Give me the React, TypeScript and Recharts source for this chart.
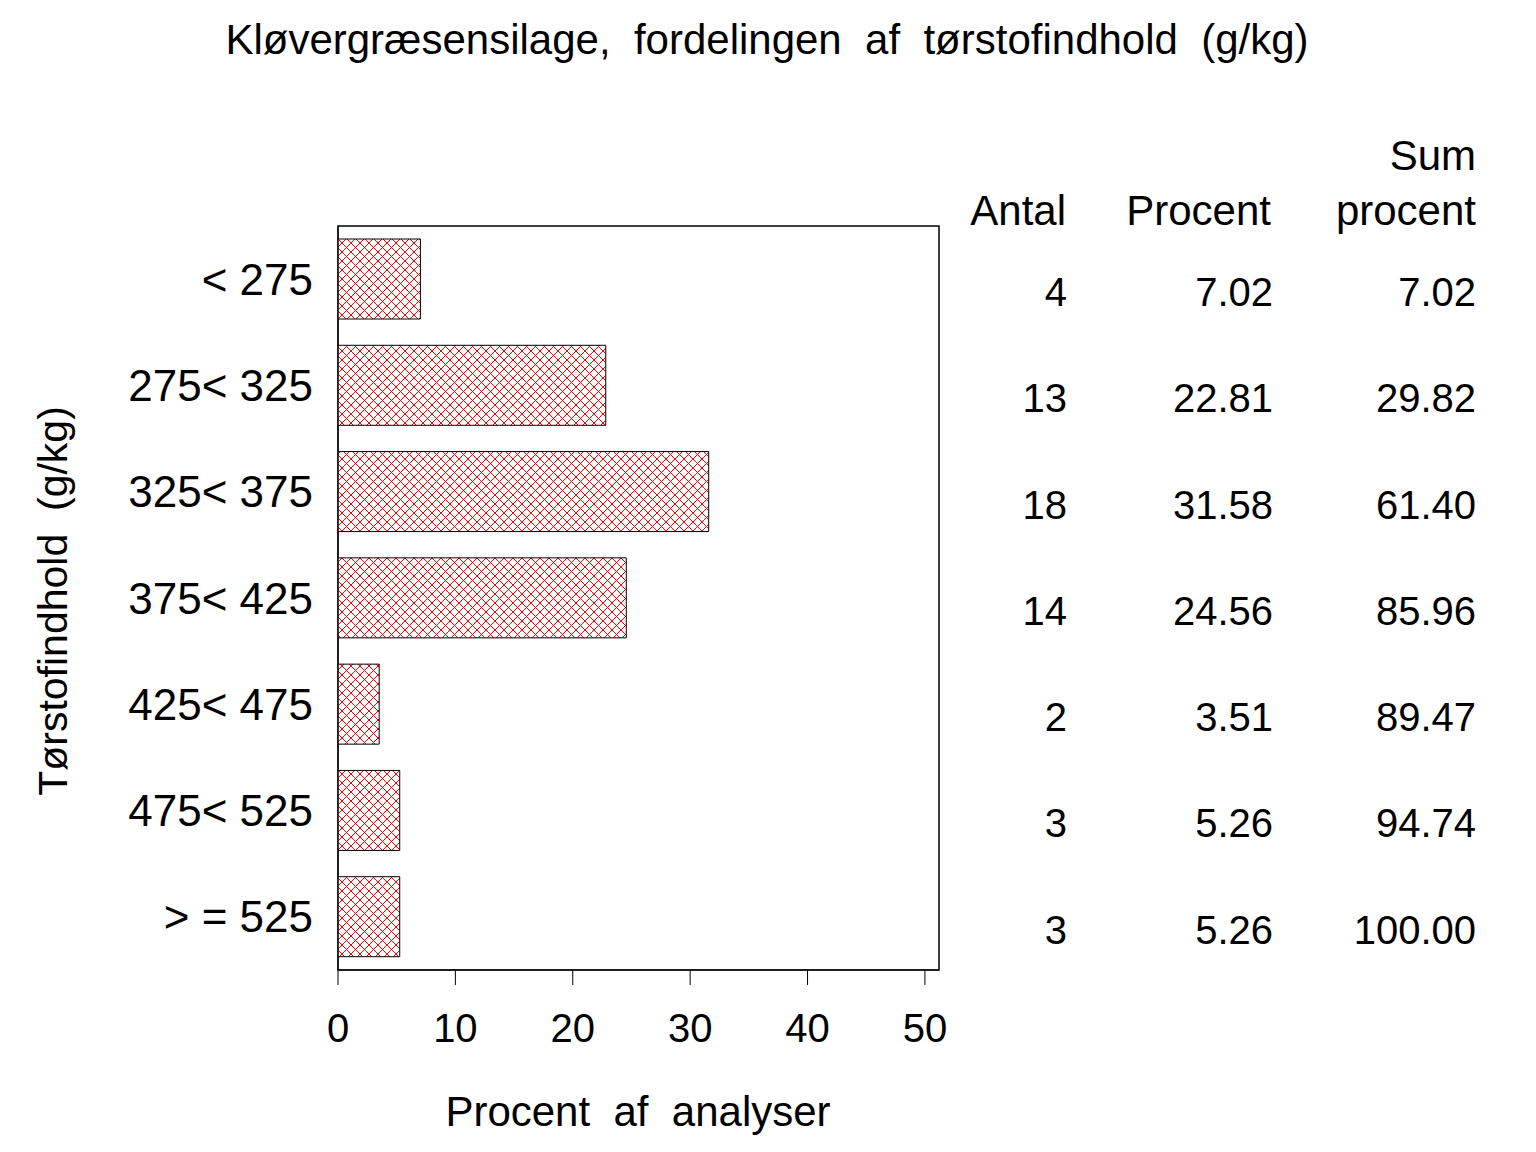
import React from "react";
import { BarChart, Bar, XAxis, YAxis, ReferenceArea, LabelList } from "recharts";

// categories and values
const categories = ["< 275", "275< 325", "325< 375", "375< 425", "425< 475", "475< 525", "> = 525"];
const antal = [4, 13, 18, 14, 2, 3, 3];
const procent = [7.02, 22.81, 31.58, 24.56, 3.51, 5.26, 5.26];
const sumProcent = [7.02, 29.82, 61.4, 85.96, 89.47, 94.74, 100.0];
const xTicks = [0, 10, 20, 30, 40, 50];

const data = categories.map((cat, i) => ({
  cat,
  antal: antal[i],
  procent: procent[i],
  sum: sumProcent[i],
}));

const FONT = '"Liberation Sans", Arial, Helvetica, sans-serif';

// right-aligned table column, placed on each bar's row
const column = (colX: number, fmt: (v: number) => string) => (props: any) => {
  const { y, height, value } = props;
  return (
    <text
      x={colX}
      y={Number(y) + Number(height) / 2 + 27}
      textAnchor="end"
      fontSize={40}
      fontFamily={FONT}
      fill="#000"
    >
      {fmt(Number(value))}
    </text>
  );
};

export default function App() {
  return (
    <div style={{ position: "absolute", left: 0, top: 0, width: 1536, height: 1152, background: "#fff", fontFamily: FONT }}>
      <svg width={0} height={0} style={{ position: "absolute" }}>
        <defs>
          <pattern id="hatch" patternUnits="userSpaceOnUse" width={9} height={9}>
            <rect width={9} height={9} fill="#fff" />
            <path d="M-1,-1 L10,10 M10,-1 L-1,10" stroke="#ff0000" strokeWidth={1} />
          </pattern>
        </defs>
      </svg>

      <BarChart
        width={1536}
        height={1152}
        data={data}
        layout="vertical"
        margin={{ top: 226, right: 597, bottom: 92, left: 108 }}
        barSize={80}
      >
        <XAxis
          type="number"
          domain={[0, 51.2]}
          ticks={xTicks}
          allowDataOverflow
          height={90}
          tickSize={15}
          tickMargin={29}
          stroke="#000"
          tick={{ fontSize: 40, fill: "#000", fontFamily: FONT }}
        />
        <YAxis
          type="category"
          dataKey="cat"
          width={230}
          tickLine={false}
          tickSize={0}
          tickMargin={25}
          stroke="#000"
          tick={{ fontSize: 44, fill: "#000", fontFamily: FONT }}
        />
        <ReferenceArea x1={0} x2={51.2} fill="none" stroke="#000" strokeWidth={1.5} ifOverflow="visible" />
        <Bar dataKey="procent" fill="url(#hatch)" stroke="#000" strokeWidth={1} isAnimationActive={false}>
          <LabelList dataKey="antal" content={column(1067, (v) => String(v))} />
          <LabelList dataKey="procent" content={column(1273, (v) => v.toFixed(2))} />
          <LabelList dataKey="sum" content={column(1476, (v) => v.toFixed(2))} />
        </Bar>
      </BarChart>

      <svg
        width={1536}
        height={1152}
        style={{ position: "absolute", left: 0, top: 0, pointerEvents: "none" }}
        fontFamily={FONT}
        fill="#000"
      >
        <text x={767} y={54} textAnchor="middle" fontSize={42} style={{ whiteSpace: "pre" }}>
          {"Kløvergræsensilage,  fordelingen  af  tørstofindhold  (g/kg)"}
        </text>
        <text x={1476} y={170} textAnchor="end" fontSize={42}>Sum</text>
        <text x={1066} y={225} textAnchor="end" fontSize={42}>Antal</text>
        <text x={1271} y={225} textAnchor="end" fontSize={42}>Procent</text>
        <text x={1476} y={225} textAnchor="end" fontSize={42}>procent</text>
        <text x={638} y={1126} textAnchor="middle" fontSize={42} style={{ whiteSpace: "pre" }}>
          {"Procent  af  analyser"}
        </text>
        <text
          x={0}
          y={0}
          transform="translate(67,601) rotate(-90)"
          textAnchor="middle"
          fontSize={41}
          style={{ whiteSpace: "pre" }}
        >
          {"Tørstofindhold  (g/kg)"}
        </text>
      </svg>
    </div>
  );
}
